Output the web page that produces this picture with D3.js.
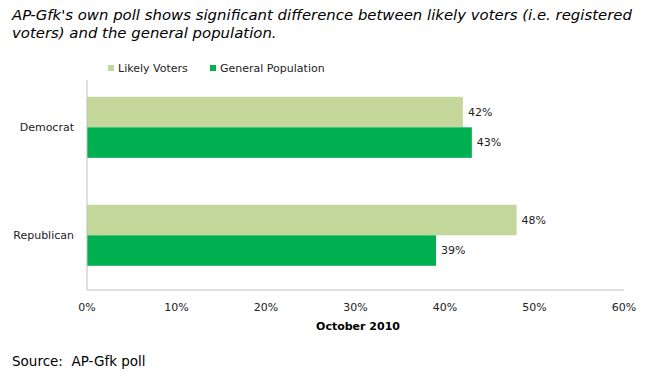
<!DOCTYPE html>
<html>
<head>
<meta charset="utf-8">
<script src="https://cdn.jsdelivr.net/npm/d3@7"></script>
<style>
  body { margin: 0; background: #fff; }
  svg { display: block; font-family: "DejaVu Sans", Verdana, sans-serif; }
  text { white-space: pre; }
</style>
</head>
<body>
<svg id="chart"></svg>
<script>
const categories = ["Democrat", "Republican"];
const seriesNames = ["Likely Voters", "General Population"];
const likelyVoters = [42, 48];
const generalPopulation = [43, 39];
const xTicks = [0, 10, 20, 30, 40, 50, 60];
const colors = ["#c4d79b", "#00b050"];

const width = 646;
const height = 377;

const svg = d3.select("#chart")
    .attr("width", width)
    .attr("height", height);

// title
const title = svg.append("text")
    .attr("x", 12)
    .attr("font-size", 14.9)
    .attr("font-style", "italic")
    .attr("fill", "#000");
title.append("tspan").attr("x", 12).attr("y", 20)
    .text("AP-Gfk's own poll shows significant difference between likely voters (i.e. registered");
title.append("tspan").attr("x", 12).attr("y", 38)
    .text("voters) and the general population.");

const x = d3.scaleLinear().domain([0, 60]).range([87, 624]);
const y = d3.scaleBand()
    .domain(categories)
    .range([80, 290])
    .paddingInner(0.435)
    .paddingOuter(0.19)
    .align(0.41);
const ySub = d3.scaleBand()
    .domain(seriesNames)
    .range([0, y.bandwidth()]);

const rows = categories.map((c, i) => ({
    category: c,
    values: [likelyVoters[i], generalPopulation[i]]
}));

// bars
const groups = svg.append("g")
    .selectAll("g")
    .data(rows)
    .join("g")
    .attr("transform", d => `translate(0,${y(d.category)})`);

groups.selectAll("rect")
    .data(d => d.values.map((v, j) => ({ name: seriesNames[j], value: v, j })))
    .join("rect")
    .attr("x", x(0))
    .attr("y", d => ySub(d.name))
    .attr("width", d => x(d.value) - x(0))
    .attr("height", ySub.bandwidth())
    .attr("fill", d => colors[d.j]);

groups.selectAll("text")
    .data(d => d.values.map((v, j) => ({ name: seriesNames[j], value: v })))
    .join("text")
    .attr("x", d => x(d.value) + 5)
    .attr("y", d => ySub(d.name) + ySub.bandwidth() / 2)
    .attr("dy", "0.35em")
    .attr("font-size", 11)
    .attr("fill", "#222")
    .text(d => d.value + "%");

// axes lines
svg.append("line")
    .attr("x1", x(0)).attr("x2", x(0))
    .attr("y1", 80).attr("y2", 290)
    .attr("stroke", "#bfbfbf");
svg.append("line")
    .attr("x1", x(0)).attr("x2", x(60))
    .attr("y1", 290).attr("y2", 290)
    .attr("stroke", "#bfbfbf");

// x tick labels
svg.append("g")
    .selectAll("text")
    .data(xTicks)
    .join("text")
    .attr("x", d => x(d))
    .attr("y", 311)
    .attr("text-anchor", "middle")
    .attr("font-size", 11)
    .attr("fill", "#222")
    .text(d => d + "%");

svg.append("text")
    .attr("x", 358)
    .attr("y", 330)
    .attr("text-anchor", "middle")
    .attr("font-size", 11)
    .attr("font-weight", "bold")
    .text("October 2010");

// category labels
svg.append("g")
    .selectAll("text")
    .data(categories)
    .join("text")
    .attr("x", 74)
    .attr("y", d => y(d) + y.bandwidth() / 2)
    .attr("dy", "0.35em")
    .attr("text-anchor", "end")
    .attr("font-size", 11)
    .attr("fill", "#222")
    .text(d => d);

// legend
const legendX = [108, 210];
const legend = svg.append("g")
    .selectAll("g")
    .data(seriesNames)
    .join("g")
    .attr("transform", (d, i) => `translate(${legendX[i]},68)`);
legend.append("rect")
    .attr("x", 0).attr("y", -3)
    .attr("width", 6).attr("height", 6)
    .attr("fill", (d, i) => colors[i]);
legend.append("text")
    .attr("x", 10)
    .attr("dy", "0.35em")
    .attr("font-size", 11)
    .attr("fill", "#222")
    .text(d => d);

// source
svg.append("text")
    .attr("x", 12)
    .attr("y", 366)
    .attr("font-size", 13.5)
    .attr("fill", "#000")
    .text("Source:  AP-Gfk poll");
</script>
</body>
</html>
